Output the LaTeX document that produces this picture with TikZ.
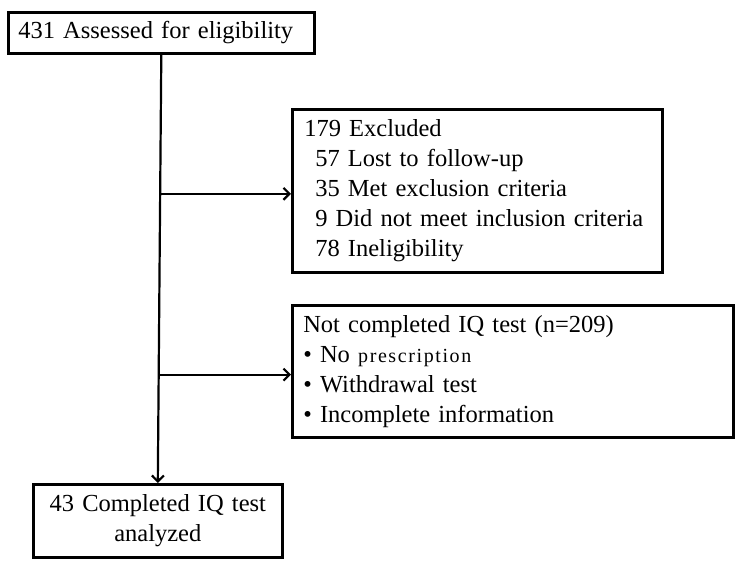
\documentclass[tikz,border=0pt]{standalone}
\usepackage{fontspec}
\setmainfont{Liberation Serif}
\usetikzlibrary{arrows.meta,calc}

\begin{document}
\begin{tikzpicture}[x=1pt,y=-1pt,line width=2.2pt,>={Straight Barb[length=6pt,width=12pt]},
	font=\fontsize{24.5}{30}\selectfont]
					\useasboundingbox (0,0) rectangle (742,567);
					\tikzstyle{every node}=[draw,shape=rectangle,line width=2.6pt,anchor=north west,inner ysep=0pt,align=left];
						\path (7,11) node[minimum width=306pt,minimum height=41pt,inner xsep=10pt,text width=286pt] (A) {431 Assessed for eligibility};
						\path (291,108) node[minimum width=370pt,minimum height=163pt,inner xsep=12pt,text width=346pt] (E)
							{179 Excluded\\
							\hspace*{11pt}57 Lost to follow-up\\
							\hspace*{11pt}35 Met exclusion criteria\\
							\hspace*{11pt}9 Did not meet inclusion criteria\\
							\hspace*{11pt}78 Ineligibility};
						\path (291,304) node[minimum width=441pt,minimum height=132pt,inner xsep=11pt,text width=419pt] (N)
							{Not completed IQ test (n=209)\\
							\textbullet{} No {\fontsize{20}{30}\selectfont\addfontfeature{LetterSpace=8}prescription}\\
							\textbullet{} Withdrawal test\\
							\textbullet{} Incomplete information};
						\path (32,483) node[minimum width=249pt,minimum height=73pt,inner xsep=5pt,text width=239pt,align=center] (C)
							{43 Completed IQ test\\analyzed};
						\coordinate (b1) at ($(A.south)!0.325!(C.north)$);
						\coordinate (b2) at ($(A.south)!0.747!(C.north)$);
						\draw[->] (A.south) -- (C.north);
						\draw[->] (b1) -- (b1 -| E.west);
						\draw[->] (b2) -- (b2 -| N.west);
					\end{tikzpicture}
\end{document}
